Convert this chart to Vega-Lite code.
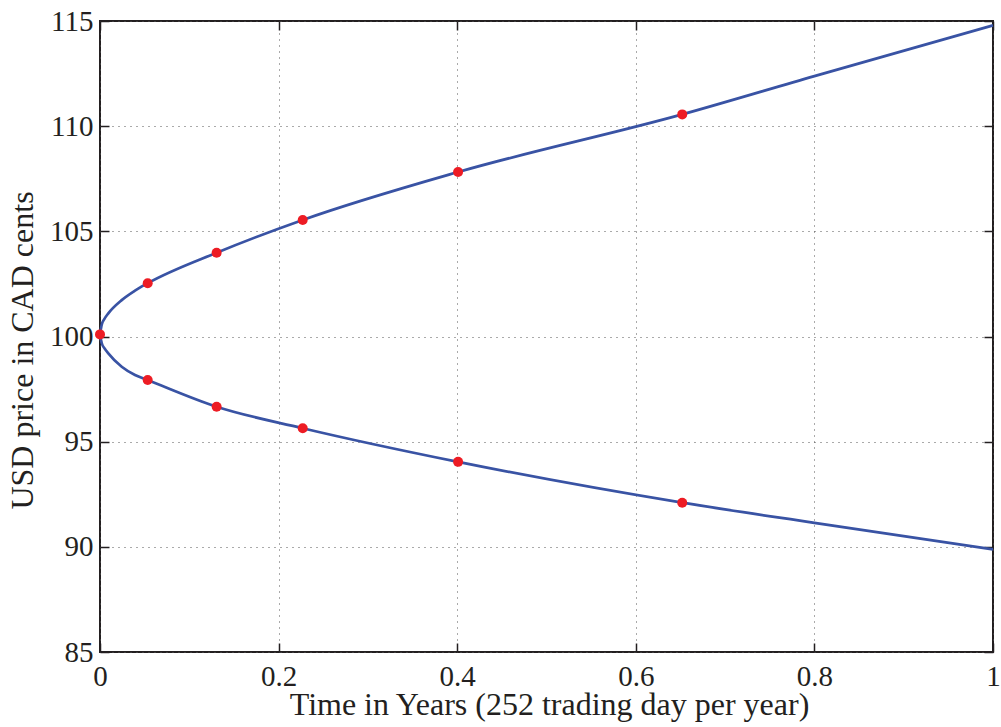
{
  "$schema": "https://vega.github.io/schema/vega-lite/v6.json",
  "width": 893,
  "height": 631,
  "autosize": "none",
  "padding": {"left": 100, "top": 21, "right": 8, "bottom": 75},
  "background": "white",
  "config": {
    "view": {"stroke": "#231f20", "strokeWidth": 2},
    "font": "Liberation Serif",
    "axis": {
      "labelFont": "Liberation Serif",
      "titleFont": "Liberation Serif",
      "labelFontSize": 29,
      "titleFontSize": 32,
      "labelColor": "#231f20",
      "titleColor": "#231f20",
      "titleFontWeight": "normal",
      "domain": false,
      "tickColor": "#231f20",
      "tickWidth": 1.5,
      "tickSize": -9,
      "gridColor": "#555555",
      "gridDash": [1, 5],
      "gridWidth": 1
    }
  },
  "data": {
    "values": [
      {"t": 0, "price": 100.1, "series": "up", "dot": true},
      {"t": 0.002, "price": 100.57, "series": "up", "dot": false},
      {"t": 0.005, "price": 100.84, "series": "up", "dot": false},
      {"t": 0.0093, "price": 101.1, "series": "up", "dot": false},
      {"t": 0.0243, "price": 101.73, "series": "up", "dot": false},
      {"t": 0.0392, "price": 102.18, "series": "up", "dot": false},
      {"t": 0.0534, "price": 102.53, "series": "up", "dot": true},
      {"t": 0.1306, "price": 103.98, "series": "up", "dot": true},
      {"t": 0.227, "price": 105.54, "series": "up", "dot": true},
      {"t": 0.401, "price": 107.82, "series": "up", "dot": true},
      {"t": 0.652, "price": 110.56, "series": "up", "dot": true},
      {"t": 0.8, "price": 112.38, "series": "up", "dot": false},
      {"t": 1.0, "price": 114.79, "series": "up", "dot": false},
      {"t": 0, "price": 100.1, "series": "down", "dot": false},
      {"t": 0.002, "price": 99.68, "series": "down", "dot": false},
      {"t": 0.005, "price": 99.44, "series": "down", "dot": false},
      {"t": 0.0093, "price": 99.2, "series": "down", "dot": false},
      {"t": 0.0243, "price": 98.56, "series": "down", "dot": false},
      {"t": 0.0392, "price": 98.17, "series": "down", "dot": false},
      {"t": 0.0534, "price": 97.93, "series": "down", "dot": true},
      {"t": 0.1306, "price": 96.66, "series": "down", "dot": true},
      {"t": 0.227, "price": 95.64, "series": "down", "dot": true},
      {"t": 0.401, "price": 94.04, "series": "down", "dot": true},
      {"t": 0.652, "price": 92.1, "series": "down", "dot": true},
      {"t": 0.8, "price": 91.14, "series": "down", "dot": false},
      {"t": 1.0, "price": 89.88, "series": "down", "dot": false}
    ]
  },
  "layer": [
    {
      "mark": {"type": "line", "color": "#3953a4", "strokeWidth": 2.7, "interpolate": "monotone"},
      "encoding": {
        "x": {
          "field": "t", "type": "quantitative",
          "scale": {"domain": [0, 1], "nice": false, "zero": false},
          "axis": {
            "orient": "bottom",
            "values": [0, 0.2, 0.4, 0.6, 0.8, 1],
            "format": "~g",
            "labelPadding": 19,
            "labelFlush": false,
            "title": "Time in Years (252 trading day per year)",
            "titleBaseline": "alphabetic",
            "titleY": 62,
            "titleX": 449,
            "titleAlign": "center"
          }
        },
        "y": {
          "field": "price", "type": "quantitative",
          "scale": {"domain": [85, 115], "nice": false, "zero": false},
          "axis": {
            "orient": "left",
            "values": [85, 90, 95, 100, 105, 110, 115],
            "labelPadding": 16,
            "labelFlush": false,
            "title": "USD price in CAD cents",
            "titleBaseline": "alphabetic",
            "titleAngle": -90,
            "titleAlign": "center",
            "titleX": -68,
            "titleY": 329
          }
        },
        "detail": {"field": "series"}
      }
    },
    {
      "transform": [{"filter": "datum.dot"}],
      "mark": {"type": "circle", "color": "#ed1c24", "opacity": 1, "size": 100},
      "encoding": {
        "x": {
          "field": "t", "type": "quantitative",
          "axis": {
            "orient": "top",
            "values": [0, 0.2, 0.4, 0.6, 0.8, 1],
            "labels": false,
            "grid": false,
            "title": null
          }
        },
        "y": {
          "field": "price", "type": "quantitative",
          "axis": {
            "orient": "right",
            "values": [85, 90, 95, 100, 105, 110, 115],
            "labels": false,
            "grid": false,
            "title": null
          }
        }
      }
    }
  ],
  "resolve": {"axis": {"x": "independent", "y": "independent"}}
}
